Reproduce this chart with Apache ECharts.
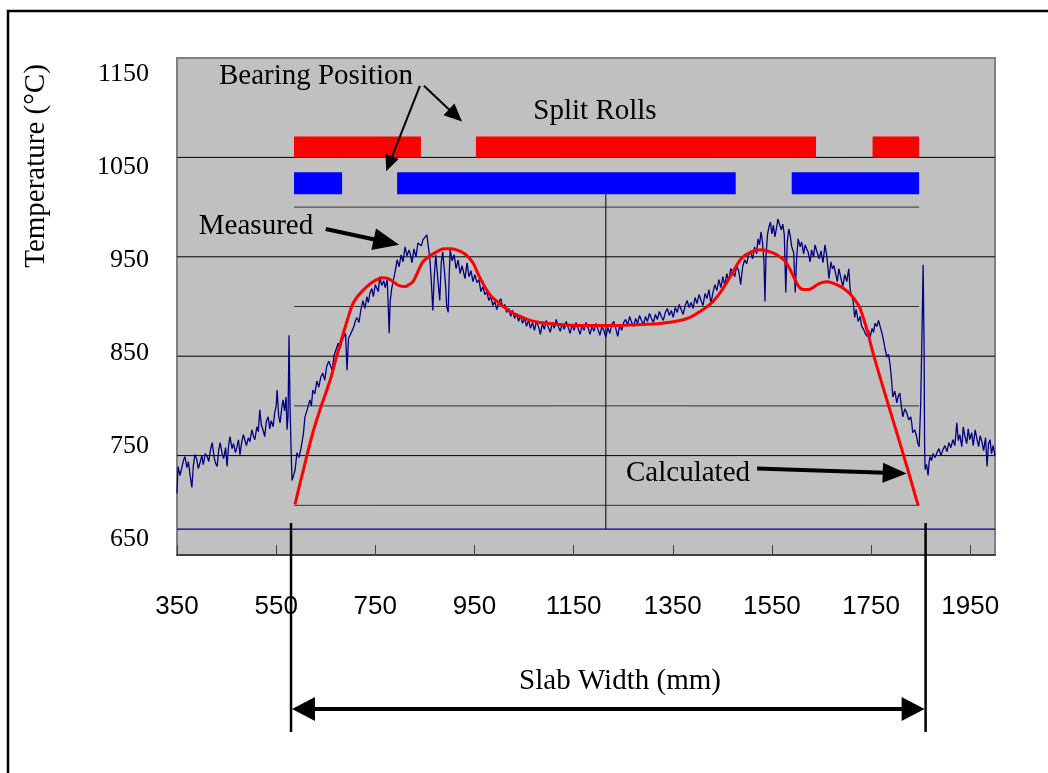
<!DOCTYPE html>
<html>
<head>
<meta charset="utf-8">
<script src="https://cdn.jsdelivr.net/npm/echarts@6/dist/echarts.min.js"></script>
<style>html,body{margin:0;padding:0;background:#fff;}#c{width:1048px;height:773px;}</style>
</head>
<body>
<div id="c"></div>
<script>
// ---------- DATA ----------
const xTicks = [350, 550, 750, 950, 1150, 1350, 1550, 1750, 1950];
const yTicks = [650, 750, 850, 950, 1050, 1150];
const fullGridTemps = [750, 850, 950, 1050];
const slabGridTemps = [700, 800, 900, 1000];
const slabEdges = [586, 1847];
const centreLine = [[1215, 1013], [1215, 676]];
const baseLineTemp = 676;

// split rolls (red) and bearing positions (blue): [start mm, end mm]
const splitRolls = [[586, 842], [953, 1639], [1753, 1847]];
const splitRollBand = [1050, 1071];
const bearings = [[586, 683], [794, 1477], [1590, 1847]];
const bearingBand = [1013, 1035];

// measured temperature [mm, degC]
const measured = [
[350,712],[352,739],[356,730],[360,732],[363,745],[366,749],[370,738],[373,744],[377,728],[380,718],
[383,740],[386,751],[390,746],[393,737],[396,742],[400,750],[403,741],[407,752],[411,749],[414,744],
[418,757],[421,763],[425,748],[428,742],[431,739],[434,755],[437,763],[441,752],[444,747],[448,758],
[451,739],[454,760],[457,769],[461,757],[464,762],[468,753],[471,759],[474,766],[477,751],[481,765],
[484,771],[487,773],[490,760],[494,768],[497,764],[501,776],[504,770],[507,766],[511,779],[514,774],
[517,796],[520,781],[524,775],[527,769],[530,784],[534,789],[537,777],[540,785],[544,779],[547,793],
[550,800],[552,816],[555,790],[558,783],[561,797],[564,806],[567,795],[570,809],[572,776],[574,790],
[576,871],[578,800],[580,759],[582,725],[584,727],[588,735],[592,753],[596,748],[600,757],[602,759],
[605,772],[608,789],[612,795],[618,806],[621,800],[624,816],[628,812],[632,825],[636,819],[640,829],
[644,833],[648,826],[652,840],[656,845],[659,843],[663,836],[667,851],[671,857],[675,863],[679,858],
[683,866],[687,870],[690,873],[693,836],[696,868],[700,872],[703,873],[707,880],[710,886],[713,889],
[717,884],[721,897],[725,906],[729,898],[733,910],[736,904],[739,913],[743,918],[746,910],[750,922],
[753,924],[756,915],[759,930],[763,921],[767,926],[770,919],[774,927],[776,902],[778,873],[780,905],
[783,918],[786,917],[790,935],[794,947],[798,940],[802,952],[806,945],[810,960],[814,951],[818,957],
[820,954],[824,944],[828,958],[832,950],[836,964],[840,966],[843,961],[846,967],[850,969],[854,972],
[857,960],[860,948],[863,925],[866,896],[869,931],[872,952],[876,928],[880,906],[883,944],[886,955],
[889,938],[892,920],[894,900],[897,894],[899,930],[901,957],[905,946],[909,952],[913,938],[917,947],
[921,933],[925,941],[927,940],[931,928],[935,944],[939,930],[943,936],[947,925],[951,932],[955,924],
[959,927],[963,915],[967,920],[971,912],[975,915],[979,906],[983,910],[987,901],[991,905],[995,897],
[999,904],[1003,908],[1007,899],[1011,902],[1015,894],[1019,898],[1023,890],[1027,896],[1031,888],[1035,893],
[1039,885],[1043,891],[1047,883],[1051,889],[1055,880],[1059,886],[1063,878],[1067,884],[1071,876],[1075,885],
[1079,880],[1083,872],[1087,883],[1091,877],[1095,886],[1099,879],[1103,874],[1107,884],[1111,878],[1115,887],
[1119,880],[1123,875],[1127,883],[1131,877],[1135,885],[1139,879],[1143,873],[1147,882],[1151,876],[1155,884],
[1159,878],[1163,872],[1167,881],[1171,876],[1175,884],[1179,879],[1183,872],[1187,880],[1191,875],[1195,883],
[1199,877],[1203,871],[1207,880],[1211,876],[1215,869],[1219,879],[1223,873],[1227,882],[1231,885],[1235,878],
[1239,870],[1243,881],[1247,876],[1251,884],[1255,887],[1259,881],[1263,890],[1267,884],[1271,880],[1275,888],
[1279,883],[1283,891],[1287,886],[1291,882],[1295,890],[1299,885],[1303,893],[1307,888],[1311,884],[1315,892],
[1319,887],[1323,895],[1327,890],[1331,886],[1335,894],[1339,898],[1343,891],[1347,896],[1351,889],[1355,899],
[1359,894],[1363,902],[1367,897],[1371,892],[1375,901],[1379,906],[1383,899],[1387,904],[1391,898],[1395,909],
[1399,903],[1403,912],[1407,906],[1411,901],[1415,913],[1419,908],[1423,917],[1427,903],[1431,914],[1435,922],
[1439,916],[1443,927],[1447,919],[1451,930],[1455,921],[1459,933],[1463,926],[1467,938],[1471,935],[1475,930],
[1479,941],[1483,936],[1487,922],[1491,940],[1495,947],[1499,943],[1503,952],[1507,955],[1511,948],[1515,960],
[1519,953],[1522,968],[1525,962],[1528,975],[1531,965],[1534,945],[1536,905],[1538,950],[1541,972],[1544,980],
[1547,985],[1550,973],[1553,982],[1556,970],[1559,978],[1562,988],[1566,990],[1569,977],[1572,983],[1575,972],
[1578,914],[1581,965],[1584,978],[1587,971],[1590,960],[1594,954],[1597,914],[1600,950],[1603,968],[1607,960],
[1610,965],[1614,953],[1617,962],[1620,958],[1623,955],[1627,945],[1630,957],[1634,950],[1637,962],[1641,955],
[1645,948],[1649,956],[1653,944],[1657,962],[1661,950],[1665,928],[1669,945],[1672,938],[1675,941],[1679,932],
[1682,925],[1685,938],[1689,929],[1693,920],[1697,932],[1701,925],[1705,938],[1708,916],[1711,914],[1714,905],
[1717,889],[1720,897],[1724,885],[1728,890],[1731,880],[1735,877],[1738,873],[1742,870],[1745,876],[1748,869],
[1752,878],[1755,874],[1758,883],[1762,880],[1765,886],[1768,884],[1771,875],[1774,869],[1778,858],[1782,849],
[1785,852],[1788,843],[1791,828],[1794,809],[1798,815],[1802,803],[1805,810],[1808,813],[1811,800],[1814,789],
[1818,797],[1822,793],[1826,786],[1830,789],[1832,783],[1834,773],[1838,776],[1842,769],[1844,763],[1847,759],
[1850,800],[1853,880],[1855,942],[1857,860],[1858,760],[1859,736],[1862,741],[1865,730],[1867,743],[1869,749],
[1872,745],[1875,752],[1879,748],[1883,753],[1887,757],[1891,750],[1895,756],[1899,760],[1903,754],[1907,763],
[1911,758],[1915,766],[1919,760],[1923,783],[1926,765],[1929,771],[1933,759],[1936,779],[1939,770],[1943,762],
[1946,777],[1949,766],[1953,773],[1956,760],[1960,776],[1963,768],[1967,759],[1970,770],[1974,763],[1977,755],
[1981,768],[1984,739],[1987,762],[1990,766],[1993,752],[1996,760],[2000,750]
];

// calculated temperature [mm, degC]
const calculated = [
[588,701],[606,738],[624,773],[641,800],[659,826],[671,848],[683,869],[694,887],[705,903],[719,913],
[733,920],[749,926],[765,929],[776,928],[786,925],[798,921],[810,920],[818,922],[826,925],[836,935],
[846,945],[860,951],[874,955],[888,958],[901,958],[914,957],[927,954],[937,950],[947,944],[961,929],
[981,912],[1001,903],[1022,895],[1042,890],[1062,886],[1082,884],[1122,882],[1163,881],[1203,881],[1244,881],
[1284,882],[1324,883],[1365,886],[1385,889],[1405,895],[1427,903],[1447,915],[1467,931],[1488,948],[1508,955],
[1528,957],[1546,955],[1556,953],[1576,946],[1590,934],[1603,921],[1613,917],[1623,917],[1645,923],[1661,925],
[1685,921],[1705,914],[1720,905],[1728,898],[1742,876],[1754,853],[1774,819],[1794,786],[1814,753],[1845,700]
];

// annotation arrows in data coordinates: [tail, tip]
const annotationArrows = [
  [[840, 1122], [772, 1036]],
  [[848, 1122], [925, 1086]],
  [[650, 978], [798, 962]],
  [[1520, 737], [1822, 732]]
];

// ---------- CHART ----------
const chart = echarts.init(document.getElementById('c'), null, {renderer: 'canvas'});
const SERIF = '"Liberation Serif", "Times New Roman", serif';
const SANS = '"Liberation Sans", Arial, sans-serif';

function hLine(y, x0, x1, color, width, z) {
  return {type: 'line', xAxisIndex: 0, yAxisIndex: 0, data: [[x0, y], [x1, y]], symbol: 'none',
    lineStyle: {color: color, width: width}, silent: true, z: z, animation: false};
}
function bandSeries(ranges, band, color) {
  return {
    type: 'custom', xAxisIndex: 0, yAxisIndex: 0, z: 3, silent: true,
    data: ranges.map(r => [r[0], r[1], band[0], band[1]]),
    encode: {x: [0, 1], y: [2, 3]},
    renderItem: function (params, api) {
      const p0 = api.coord([api.value(0), api.value(3)]);
      const p1 = api.coord([api.value(1), api.value(2)]);
      return {type: 'rect', shape: {x: p0[0], y: p0[1], width: p1[0] - p0[0], height: p1[1] - p0[1]},
        style: {fill: color}};
    }
  };
}

const series = [];
fullGridTemps.forEach(t => series.push(hLine(t, 350, 2000, '#000000', 1, 1)));
slabGridTemps.forEach(t => series.push(hLine(t, slabEdges[0], slabEdges[1], '#333333', 1, 1)));
series.push(hLine(baseLineTemp, 350, 2000, '#000080', 1.2, 2));
series.push({type: 'line', data: centreLine, symbol: 'none', lineStyle: {color: '#000', width: 1}, z: 2, silent: true});
series.push(bandSeries(splitRolls, splitRollBand, '#FF0000'));
series.push(bandSeries(bearings, bearingBand, '#0000FF'));
series.push({type: 'line', name: 'Measured', data: measured, symbol: 'none',
  lineStyle: {color: '#000080', width: 1.3}, z: 4, silent: true});
series.push({type: 'line', name: 'Calculated', data: calculated, symbol: 'none', smooth: 0.35,
  lineStyle: {color: '#FF0000', width: 3}, z: 5, silent: true});

const plain = v => String(v);
const option = {
  animation: false,
  backgroundColor: '#ffffff',
  grid: [
    {left: 177, top: 58, width: 818, height: 497, show: true, backgroundColor: '#C0C0C0',
     borderColor: '#808080', borderWidth: 2},
    {left: 177, top: 74, width: 818, height: 465, show: false}
  ],
  xAxis: [
    {type: 'value', gridIndex: 0, min: 350, max: 2000,
     axisLine: {show: true, lineStyle: {color: '#404040', width: 2}},
     axisTick: {show: true, inside: true, length: 10, customValues: xTicks, lineStyle: {color: '#404040', width: 1}},
     axisLabel: {customValues: xTicks, formatter: plain, fontFamily: SANS, fontSize: 26, color: '#000', margin: 39},
     splitLine: {show: false}},
    {type: 'value', gridIndex: 1, min: 0, max: 1, show: false}
  ],
  yAxis: [
    {type: 'value', gridIndex: 0, min: 650, max: 1150,
     axisLine: {show: false}, axisTick: {show: false}, axisLabel: {show: false}, splitLine: {show: false}},
    {type: 'value', gridIndex: 1, min: 650, max: 1150,
     axisLine: {show: false}, axisTick: {show: false}, splitLine: {show: false},
     axisLabel: {customValues: yTicks, formatter: plain, fontFamily: SERIF, fontSize: 26, color: '#000', margin: 28}}
  ],
  series: series
};
chart.setOption(option);

// ---------- ANNOTATIONS ----------
function arrow(p0, p1, L, W, lw) {
  const dx = p1[0] - p0[0], dy = p1[1] - p0[1];
  const len = Math.sqrt(dx * dx + dy * dy);
  const ux = dx / len, uy = dy / len;
  const bx = p1[0] - ux * L, by = p1[1] - uy * L;
  const px = -uy * W / 2, py = ux * W / 2;
  return [
    {type: 'line', z: 100, shape: {x1: p0[0], y1: p0[1], x2: bx + ux * 2, y2: by + uy * 2},
     style: {stroke: '#000', lineWidth: lw}},
    {type: 'polygon', z: 100, shape: {points: [[p1[0], p1[1]], [bx + px, by + py], [bx - px, by - py]]},
     style: {fill: '#000'}}
  ];
}
function txt(s, x, y, size, rot) {
  return {type: 'text', x: x, y: y, rotation: rot || 0, z: 100,
    style: {text: s, font: size + 'px ' + SERIF, fill: '#000', align: 'center', verticalAlign: 'middle'}};
}
const arrowSizes = [[16, 14, 2], [18, 16, 2], [26, 22, 4], [24, 20, 4]];
let g = [];
g.push({type: 'rect', z: 100, shape: {x: 8, y: 11, width: 1200, height: 900},
  style: {fill: 'transparent', stroke: '#000', lineWidth: 2.5}});
g.push(txt('Temperature (\u00B0C)', 36, 166, 29, Math.PI / 2));
g.push(txt('Bearing Position', 316, 76, 29));
g.push(txt('Split Rolls', 595, 111, 29));
g.push(txt('Measured', 256, 226, 29));
g.push(txt('Calculated', 688, 473, 29));
g.push(txt('Slab Width (mm)', 620, 681, 29));
annotationArrows.forEach((a, i) => {
  const p0 = chart.convertToPixel({gridIndex: 0}, a[0]);
  const p1 = chart.convertToPixel({gridIndex: 0}, a[1]);
  const s = arrowSizes[i];
  g = g.concat(arrow(p0, p1, s[0], s[1], s[2]));
});
// slab width dimension
const xl = chart.convertToPixel({gridIndex: 0}, [580, 700])[0];
const xr = chart.convertToPixel({gridIndex: 0}, [1860, 700])[0];
g.push({type: 'line', z: 100, shape: {x1: xl, y1: 523, x2: xl, y2: 732}, style: {stroke: '#000', lineWidth: 2.5}});
g.push({type: 'line', z: 100, shape: {x1: xr, y1: 523, x2: xr, y2: 732}, style: {stroke: '#000', lineWidth: 2.5}});
g.push({type: 'line', z: 100, shape: {x1: xl + 20, y1: 709, x2: xr - 20, y2: 709}, style: {stroke: '#000', lineWidth: 4}});
g.push({type: 'polygon', z: 100, shape: {points: [[xl + 1, 709], [xl + 24, 697], [xl + 24, 721]]}, style: {fill: '#000'}});
g.push({type: 'polygon', z: 100, shape: {points: [[xr - 1, 709], [xr - 24, 697], [xr - 24, 721]]}, style: {fill: '#000'}});
chart.setOption({graphic: g});
</script>
</body>
</html>
